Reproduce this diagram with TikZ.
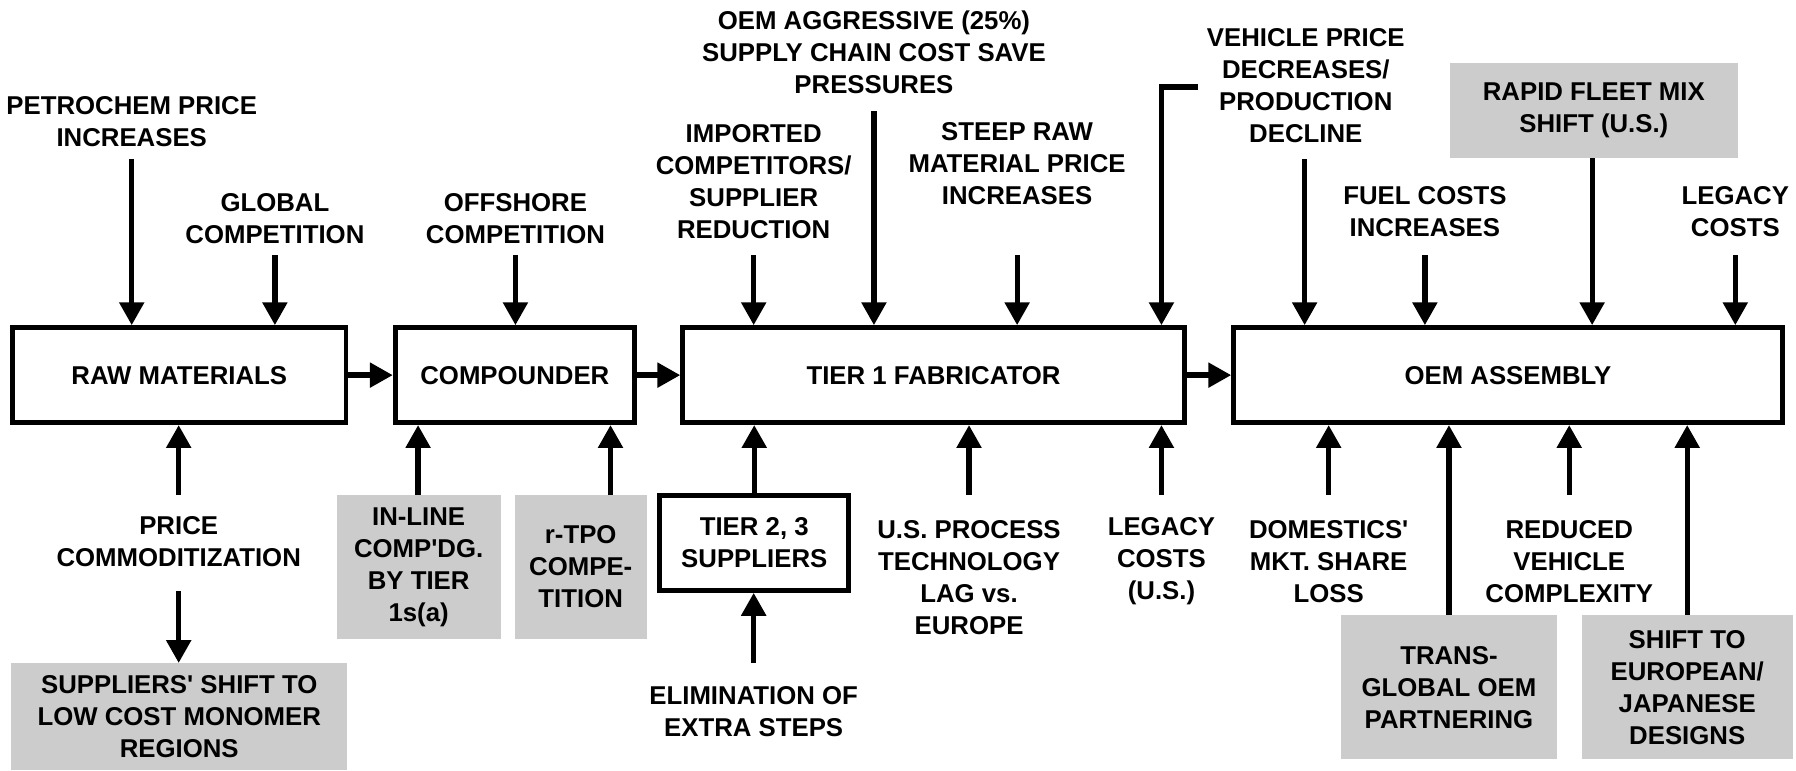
\documentclass[tikz,border=0pt]{standalone}
\usepackage{fontspec}
\setmainfont{Liberation Sans}
\usetikzlibrary{arrows.meta}
\definecolor{boxgray}{RGB}{204,204,204}
\newcommand{\sq}{\textquotesingle}
\begin{document}
\begin{tikzpicture}[x=1pt,y=-1pt,
  lbl/.style={align=center,inner sep=0pt,font=\bfseries\fontsize{22.5}{28}\selectfont},
  mainbox/.style={lbl,draw,line width=4.2pt,minimum height=83pt},
  graybox/.style={lbl,fill=boxgray,draw=none},
  wbox/.style={lbl,draw,line width=4.2pt},
  arr/.style={line width=4.6pt,-{Triangle[length=20pt,width=21pt]}}]
\useasboundingbox (0,0) rectangle (1568,673);

% main boxes
\node[mainbox,minimum width=291pt] (raw) at (156.5,327.5) {RAW MATERIALS};
\node[mainbox,minimum width=209pt] (comp) at (449.5,327.5) {COMPOUNDER};
\node[mainbox,minimum width=438pt] (tier) at (815,327.5) {TIER 1 FABRICATOR};
\node[mainbox,minimum width=479pt] (oem) at (1316.5,327.5) {OEM ASSEMBLY};

\draw[arr] (raw.east) -- (comp.west);
\draw[arr] (comp.east) -- (tier.west);
\draw[arr] (tier.east) -- (oem.west);

% top labels
\node[lbl] (petro) at (115,106) {PETROCHEM PRICE\\INCREASES};
\node[lbl] (global) at (240,190.5) {GLOBAL\\COMPETITION};
\node[lbl] (offsh) at (450,190.5) {OFFSHORE\\COMPETITION};
\node[lbl] (impo) at (658,158.5) {IMPORTED\\COMPETITORS/\\SUPPLIER\\REDUCTION};
\node[lbl] (oemagg) at (763,46) {OEM AGGRESSIVE (25\%)\\SUPPLY CHAIN COST SAVE\\PRESSURES};
\node[lbl] (steep) at (888,142.5) {STEEP RAW\\MATERIAL PRICE\\INCREASES};
\node[lbl] (vehic) at (1140,74.5) {VEHICLE PRICE\\DECREASES/\\PRODUCTION\\DECLINE};
\node[lbl] (fuel) at (1244,185) {FUEL COSTS\\INCREASES};
\node[graybox,minimum width=251pt,minimum height=83pt] (rapid) at (1391.5,96.5) {RAPID FLEET MIX\\SHIFT (U.S.)};
\node[lbl] (legacy) at (1515,185) {LEGACY\\COSTS};

\coordinate (petroA) at (115,139);
\coordinate (globalA) at (240,223);
\coordinate (offshA) at (450,223);
\coordinate (impoA) at (658,223);
\coordinate (oemaggA) at (763,97);
\coordinate (steepA) at (888,223);
\coordinate (elbowA) at (1046,76);
\coordinate (elbowB) at (1014,76);
\coordinate (vehicA) at (1139,139);
\coordinate (fuelA) at (1244,223);
\coordinate (rapidA) at (1390,0);
\coordinate (legacyA) at (1515,223);

\draw[arr] (petroA) -- (petroA |- raw.north);
\draw[arr] (globalA) -- (globalA |- raw.north);
\draw[arr] (offshA) -- (offshA |- comp.north);
\draw[arr] (impoA) -- (impoA |- tier.north);
\draw[arr] (oemaggA) -- (oemaggA |- tier.north);
\draw[arr] (steepA) -- (steepA |- tier.north);
\draw[arr] (elbowA) -- (elbowB) -- (elbowB |- tier.north);
\draw[arr] (vehicA) -- (vehicA |- oem.north);
\draw[arr] (fuelA) -- (fuelA |- oem.north);
\draw[arr] (rapidA |- rapid.south) -- (rapidA |- oem.north);
\draw[arr] (legacyA) -- (legacyA |- oem.north);

% bottom
\node[lbl] (price) at (156,473) {PRICE\\COMMODITIZATION};
\node[graybox,minimum width=293pt,minimum height=93pt] (suppl) at (156.5,625.5) {SUPPLIERS\sq{} SHIFT TO\\LOW COST MONOMER\\REGIONS};
\node[graybox,minimum width=143pt,minimum height=126pt] (inline) at (365.5,495) {IN-LINE\\COMP\sq{}DG.\\BY TIER\\1s(a)};
\node[graybox,minimum width=115pt,minimum height=126pt] (rtpo) at (507,495) {r-TPO\\COMPE-\\TITION};
\node[wbox,minimum width=165pt,minimum height=83pt] (tier2) at (658.5,474) {TIER 2, 3\\SUPPLIERS};
\node[lbl] (elim) at (658,621) {ELIMINATION OF\\EXTRA STEPS};
\node[lbl] (usproc) at (846,504) {U.S. PROCESS\\TECHNOLOGY\\LAG vs.\\EUROPE};
\node[lbl] (legacy2) at (1014,490) {LEGACY\\COSTS\\(U.S.)};
\node[lbl] (domest) at (1160,490) {DOMESTICS\sq\\MKT. SHARE\\LOSS};
\node[graybox,minimum width=188pt,minimum height=126pt] (trans) at (1265,600) {TRANS-\\GLOBAL OEM\\PARTNERING};
\node[lbl] (reduced) at (1370,490) {REDUCED\\VEHICLE\\COMPLEXITY};
\node[graybox,minimum width=184pt,minimum height=126pt] (shift) at (1473,600) {SHIFT TO\\EUROPEAN/\\JAPANESE\\DESIGNS};

\coordinate (priceA) at (156,432);
\coordinate (priceB) at (156,516);
\coordinate (inlineA) at (365,0);
\coordinate (rtpoA) at (533,0);
\coordinate (elimA) at (658,579);
\coordinate (usprocA) at (846,432);
\coordinate (legacy2A) at (1014,432);
\coordinate (domestA) at (1160,432);
\coordinate (transA) at (1265,0);
\coordinate (reducedA) at (1370,432);
\coordinate (shiftA) at (1473,0);

\draw[arr] (priceA) -- (priceA |- raw.south);
\draw[arr] (priceB) -- (priceB |- suppl.north);
\draw[arr] (inlineA |- inline.north) -- (inlineA |- comp.south);
\draw[arr] (rtpoA |- rtpo.north) -- (rtpoA |- comp.south);
\draw[arr] (tier2.north) -- (tier2.north |- tier.south);
\draw[arr] (elimA) -- (elimA |- tier2.south);
\draw[arr] (usprocA) -- (usprocA |- tier.south);
\draw[arr] (legacy2A) -- (legacy2A |- tier.south);
\draw[arr] (domestA) -- (domestA |- oem.south);
\draw[arr] (transA |- trans.north) -- (transA |- oem.south);
\draw[arr] (reducedA) -- (reducedA |- oem.south);
\draw[arr] (shiftA |- shift.north) -- (shiftA |- oem.south);
\end{tikzpicture}
\end{document}
